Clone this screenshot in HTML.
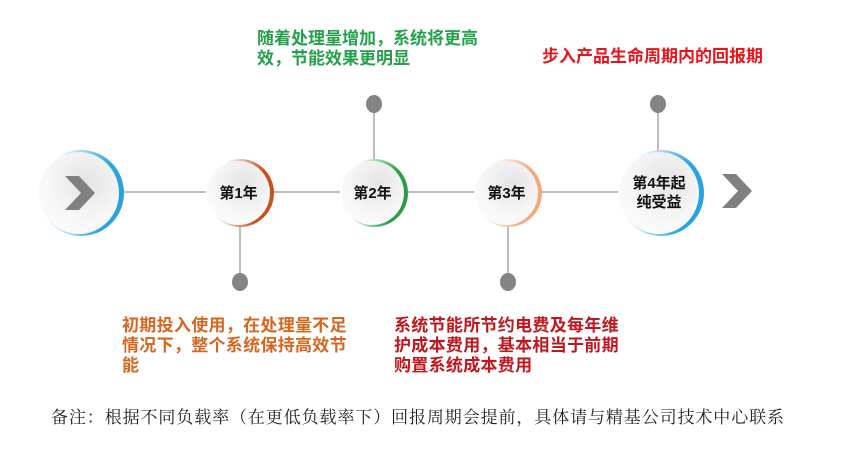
<!DOCTYPE html>
<html><head><meta charset="utf-8"><style>
body{margin:0;width:850px;height:457px;background:#fff;position:relative;overflow:hidden;font-family:"Liberation Sans","Noto Sans CJK SC",sans-serif}
.abs{position:absolute}
.line{position:absolute;background:#bdbdbd}
.dot{position:absolute;width:16px;height:18px;border-radius:50%;background:#848484}
.ring{position:absolute;border-radius:50%}
.in{position:absolute;border-radius:50%;background:radial-gradient(circle at 60% 35%,#e4e4e4,#f7f7f7 55%,#fff);display:flex;align-items:center;justify-content:center;font-weight:bold;font-size:15px;color:#111;text-align:center;line-height:19px}
.t{position:absolute;font-weight:bold;font-size:17px;line-height:20px;letter-spacing:0.3px}
</style></head><body>
<div class="line" style="left:120px;top:191px;width:505px;height:2px"></div>
<div class="line" style="left:239px;top:200px;width:2px;height:80px"></div>
<div class="line" style="left:373px;top:108px;width:2px;height:80px"></div>
<div class="line" style="left:507px;top:200px;width:2px;height:80px"></div>
<div class="line" style="left:657px;top:108px;width:2px;height:50px"></div>
<div class="dot" style="left:366px;top:95px"></div>
<div class="dot" style="left:650px;top:95px"></div>
<div class="dot" style="left:232px;top:273px"></div>
<div class="dot" style="left:500px;top:273px"></div>

<div class="ring" style="left:38px;top:150px;width:86px;height:86px;background:linear-gradient(100deg,#fff 20%,#29a3dd 75%)"></div>
<div class="in" style="left:39px;top:152px;width:80px;height:82px">
<svg width="30" height="34" viewBox="0 0 30 34" style="margin-left:2px"><polygon points="0,0 14,0 30,17 14,34 0,34 16,17" fill="#808080"/></svg></div>

<div class="ring" style="left:206px;top:159px;width:68px;height:68px;background:linear-gradient(100deg,#fff 25%,#c7511c 75%)"></div>
<div class="in" style="left:207px;top:161px;width:63px;height:64px">第1年</div>

<div class="ring" style="left:340px;top:159px;width:68px;height:68px;background:linear-gradient(100deg,#fff 25%,#23a047 75%)"></div>
<div class="in" style="left:341px;top:161px;width:63px;height:64px">第2年</div>

<div class="ring" style="left:474px;top:159px;width:68px;height:68px;background:linear-gradient(100deg,#fff 25%,#f2a878 75%)"></div>
<div class="in" style="left:475px;top:161px;width:63px;height:64px">第3年</div>

<div class="ring" style="left:618px;top:150px;width:86px;height:86px;background:linear-gradient(100deg,#fff 20%,#29a3dd 75%)"></div>
<div class="in" style="left:619px;top:152px;width:80px;height:82px">第4年起<br>纯受益</div>

<svg class="abs" style="left:722px;top:174px" width="30" height="34" viewBox="0 0 30 34"><polygon points="0,0 14,0 30,17 14,34 0,34 16,17" fill="#808080"/></svg>

<div class="t" style="left:257px;top:29px;color:#22a14a;width:230px;letter-spacing:0">随着处理量增加，系统将更高<br>效，节能效果更明显</div>
<div class="t" style="left:542px;top:47px;color:#e8141b;letter-spacing:0">步入产品生命周期内的回报期</div>
<div class="t" style="left:122px;top:316px;color:#d5661f;width:240px">初期投入使用，在处理量不足<br>情况下，整个系统保持高效节<br>能</div>
<div class="t" style="left:394px;top:316px;color:#c0161e;width:250px">系统节能所节约电费及每年维<br>护成本费用，基本相当于前期<br>购置系统成本费用</div>
<div class="abs" style="left:51px;top:403px;font-family:'Liberation Serif','Noto Serif CJK SC',serif;font-size:17px;letter-spacing:0.9px;color:#222;white-space:nowrap">备注：根据不同负载率（在更低负载率下）回报周期会提前，具体请与精基公司技术中心联系</div>
</body></html>
